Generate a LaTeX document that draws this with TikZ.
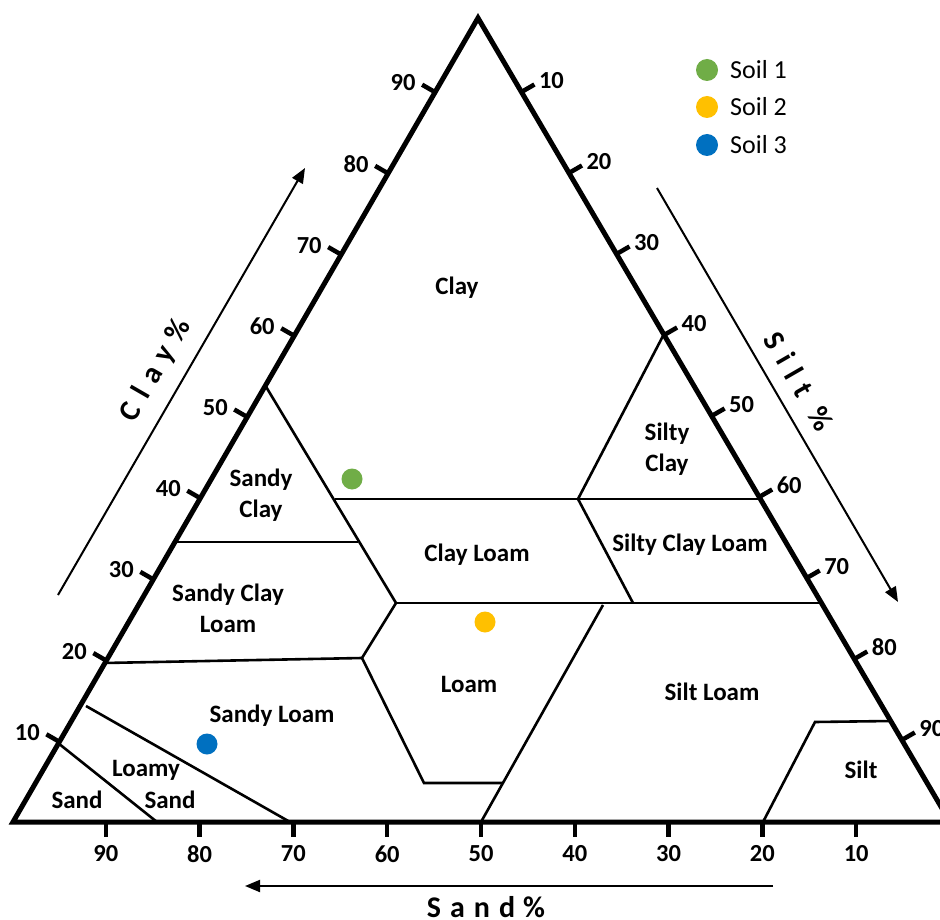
\documentclass[tikz,border=0pt]{standalone}
\usepackage{fontspec}
\setmainfont{Carlito}
\usetikzlibrary{arrows.meta,calc}
\definecolor{soilgreen}{HTML}{70AD47}
\definecolor{soilyellow}{HTML}{FFC000}
\definecolor{soilblue}{HTML}{0070C0}
\begin{document}
\begin{tikzpicture}[x=1pt,y=-1pt,
  frame/.style={line width=5pt,line join=miter},
  region/.style={line width=2.6pt},
  tickmark/.style={line width=4.5pt},
  axisarrow/.style={line width=2pt,-{Triangle[length=15pt,width=12pt]}},
  lbl/.style={font=\fontsize{25}{31}\selectfont\bfseries,align=center,inner sep=0pt},
  num/.style={font=\fontsize{24.5}{28}\selectfont\bfseries,inner sep=0pt},
  legendtext/.style={font=\fontsize{26}{30}\selectfont,anchor=west,inner sep=0pt},
  axtitle/.style={font=\fontsize{30}{34}\selectfont\bfseries,inner sep=0pt},
  dot/.style={circle,inner sep=0pt,minimum size=21pt}]
\useasboundingbox (0,0) rectangle (940,920);
\clip (0,0) rectangle (940,920);
\fill[white] (0,0) rectangle (940,920);

% corners
\coordinate (A) at (13,822);
\coordinate (B) at (950,822);
\coordinate (C) at (478,18);

% region vertices
\coordinate (SCtop) at (265,385);
\coordinate (P1) at (335,499);
\coordinate (P2) at (358,542);
\coordinate (P3) at (396,603);
\coordinate (L542) at (174,542);
\coordinate (P4) at (362,658);
\coordinate (L663) at (104,663);
\coordinate (P5) at (424,783);
\coordinate (P6) at (503,783);
\coordinate (P7) at (603,605);
\coordinate (P8) at (481,822);
\coordinate (P9) at (578,499);
\coordinate (P10) at (664,334);
\coordinate (R499) at (760,499);
\coordinate (P11) at (633,603);
\coordinate (R603) at (821,603);
\coordinate (S1) at (815,722);
\coordinate (S2) at (891,721);
\coordinate (S3) at (763,822);
\coordinate (Q1) at (58,743);
\coordinate (Q2) at (157,822);
\coordinate (Q3) at (86,706);
\coordinate (Q4) at (290,822);

% region boundaries
\draw[region] (SCtop) -- (P3);
\draw[region] (P1) -- (R499);
\draw[region] (L542) -- (P2);
\draw[region] (P3) -- (R603);
\draw[region] (P3) -- (P4) -- (P5) -- (P6);
\draw[region] (L663) -- (P4);
\draw[region] (P7) -- (P8);
\draw[region] (P10) -- (P9) -- (P11);
\draw[region] (S2) -- (S1) -- (S3);
\draw[region] (Q1) -- (Q2);
\draw[region] (Q3) -- (Q4);

% triangle
\draw[frame] (A) -- (B) -- (C) -- cycle;

% clay ticks (left side)
\foreach \cv in {10,20,...,90}{
  \pgfmathsetmacro\yy{823-8.12*\cv}
  \pgfmathsetmacro\xx{13+(822-\yy)*0.5784}
  \coordinate (LT\cv) at (\xx,\yy);
  \coordinate (LE\cv) at (\xx-13,\yy-7.5);
  \draw[tickmark] (LT\cv) -- (LE\cv);
  \node[num] (LN\cv) at (\xx-32,\yy-9.5) {\cv};
}
% silt ticks (right side)
\foreach \tv in {10,20,...,90}{
  \pgfmathsetmacro\yy{11+8.1*\tv}
  \pgfmathsetmacro\xx{478+(\yy-18)*0.587}
  \coordinate (RT\tv) at (\xx,\yy);
  \coordinate (RE\tv) at (\xx+13,\yy-7.5);
  \draw[tickmark] (RT\tv) -- (RE\tv);
  \node[num] (RN\tv) at (\xx+30,\yy-11.5) {\tv};
}
% sand ticks (bottom)
\foreach \sv in {10,20,...,90}{
  \pgfmathsetmacro\xx{950-9.38*\sv}
  \coordinate (BT\sv) at (\xx,822);
  \coordinate (BE\sv) at (\xx,837);
  \draw[tickmark] (BT\sv) -- (BE\sv);
  \node[num] (BN\sv) at (\xx,854) {\sv};
}

% region labels
\node[lbl] (clay) at (457,288) {Clay};
\node[lbl] (sandyclay) at (261,495) {Sandy\\Clay};
\node[lbl] (siltyclay) at (667,449) {Silty\\Clay};
\node[lbl] (clayloam) at (477,555) {Clay Loam};
\node[lbl] (siltyclayloam) at (690,545) {Silty Clay Loam};
\node[lbl] (sandyclayloam) at (228,608) {Sandy Clay\\Loam};
\node[lbl] (loam) at (469,684) {Loam};
\node[lbl] (siltloam) at (712,692) {Silt Loam};
\node[lbl] (sandyloam) at (272,716) {Sandy Loam};
\node[lbl] (loamy) at (146,770) {Loamy};
\node[lbl] (loamysand) at (170,800) {Sand};
\node[lbl] (sand) at (77,800) {Sand};
\node[lbl] (silt) at (861,770) {Silt};

% soil points
\node[dot,fill=soilgreen] (soil1) at (352,479) {};
\node[dot,fill=soilyellow] (soil2) at (485,622) {};
\node[dot,fill=soilblue] (soil3) at (207,744) {};

% legend
\node[dot,fill=soilgreen,minimum size=22pt] (leg1) at (707,70) {};
\node[dot,fill=soilyellow,minimum size=22pt] (leg2) at (707,107) {};
\node[dot,fill=soilblue,minimum size=22pt] (leg3) at (707,145) {};
\node[legendtext] (legt1) at (730,70) {Soil 1};
\node[legendtext] (legt2) at (730,107) {Soil 2};
\node[legendtext] (legt3) at (730,145) {Soil 3};

% axis arrows and titles
\coordinate (clayA) at (58,595);
\coordinate (clayB) at (305,168);
\draw[axisarrow] (clayA) -- (clayB);
\node[axtitle,rotate=60] (claytitle) at (156,370) {C\kern10pt l\kern10pt a\kern10pt y\kern9pt\%};

\coordinate (siltA) at (657,188);
\coordinate (siltB) at (898,602);
\draw[axisarrow] (siltA) -- (siltB);
\node[axtitle,rotate=-60] (silttitle) at (799,381) {S\kern10pt i\kern10pt l\kern10pt t\kern17pt\%};

\coordinate (sandA) at (773,886);
\coordinate (sandB) at (245,886);
\draw[axisarrow] (sandA) -- (sandB);
\node[axtitle,anchor=base] (sandtitle) at (486,917) {S\kern9pt a\kern9pt n\kern9pt d\kern8pt\%};
\end{tikzpicture}
\end{document}
